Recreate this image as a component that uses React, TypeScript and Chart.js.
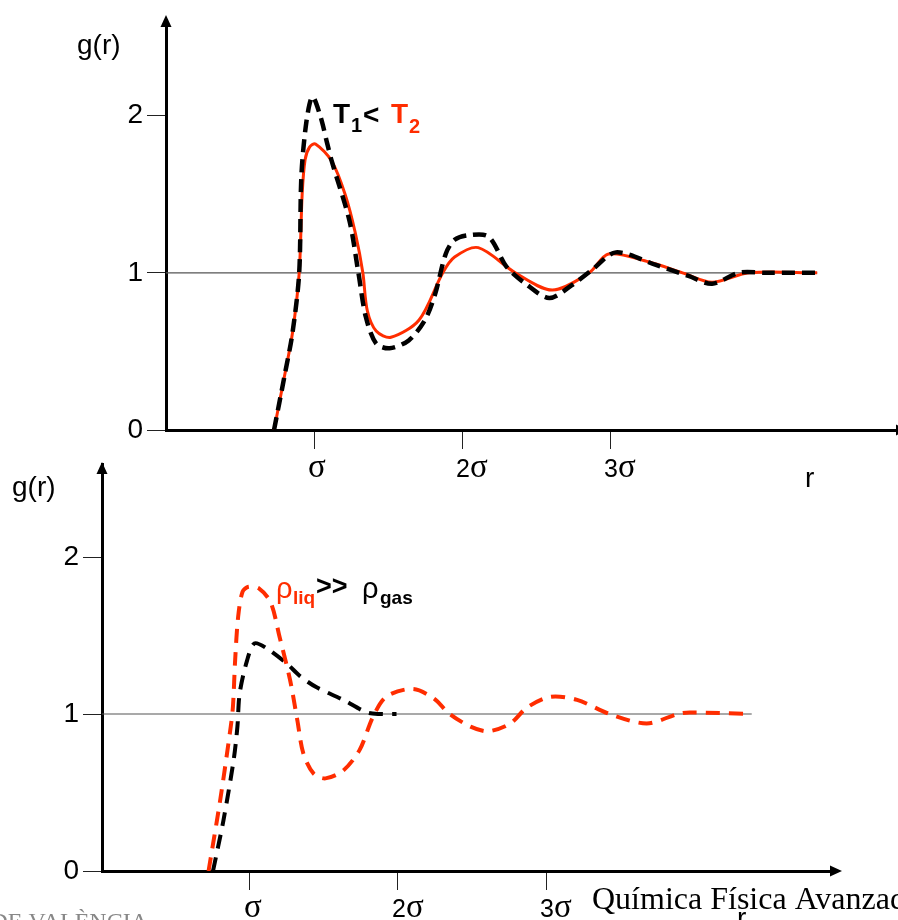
import React, { useEffect, useRef } from "react";
import { Chart, registerables } from "chart.js";

Chart.register(...registerables);

// ---------- Top panel: T1 < T2 ----------
const t2R = [0.73, 0.80, 0.855, 0.90, 0.92, 0.94, 0.97, 1.01, 1.12, 1.21, 1.28, 1.33, 1.36, 1.42, 1.52, 1.71, 1.87, 1.95, 2.11, 2.36, 2.61, 2.86, 2.99, 3.26, 3.49, 3.69, 3.94, 4.40];
const t2G = [0, 0.34, 0.62, 1.0, 1.50, 1.72, 1.80, 1.82, 1.71, 1.50, 1.25, 1.0, 0.76, 0.63, 0.59, 0.70, 1.0, 1.10, 1.16, 1.0, 0.89, 1.0, 1.12, 1.07, 1.0, 0.94, 1.0, 1.0];

const t1R = [0.73, 0.80, 0.855, 0.90, 0.915, 0.95, 0.99, 1.045, 1.09, 1.12, 1.24, 1.30, 1.35, 1.42, 1.51, 1.64, 1.75, 1.82, 1.89, 1.95, 2.05, 2.18, 2.30, 2.43, 2.59, 2.74, 2.88, 3.04, 3.31, 3.53, 3.69, 3.87, 4.05, 4.40];
const t1G = [0, 0.34, 0.62, 1.0, 1.62, 1.97, 2.12, 1.99, 1.82, 1.71, 1.33, 1.0, 0.72, 0.55, 0.52, 0.57, 0.70, 0.87, 1.12, 1.21, 1.24, 1.23, 1.04, 0.93, 0.84, 0.92, 1.02, 1.13, 1.05, 0.98, 0.93, 1.0, 1.0, 1.0];

const refTopR = [0, 4.40];
const refTopG = [1, 1];

// ---------- Bottom panel: rho_liq >> rho_gas ----------
const liqR = [0.72, 0.80, 0.87, 0.885, 0.90, 0.92, 0.95, 0.99, 1.06, 1.14, 1.20, 1.27, 1.32, 1.36, 1.43, 1.51, 1.63, 1.74, 1.83, 1.92, 2.10, 2.24, 2.35, 2.49, 2.61, 2.76, 2.87, 3.03, 3.21, 3.43, 3.68, 3.89, 3.97, 4.39];
const liqG = [0, 0.46, 0.92, 1.05, 1.35, 1.62, 1.78, 1.81, 1.80, 1.71, 1.49, 1.22, 0.96, 0.75, 0.62, 0.59, 0.64, 0.77, 0.98, 1.11, 1.16, 1.10, 1.0, 0.92, 0.89, 0.94, 1.04, 1.11, 1.09, 1.0, 0.94, 1.0, 1.01, 1.0];

const gasR = [0.75, 0.82, 0.89, 0.915, 0.93, 0.98, 1.03, 1.11, 1.25, 1.34, 1.45, 1.63, 1.79, 1.88, 1.99];
const gasG = [0, 0.32, 0.71, 0.92, 1.13, 1.34, 1.45, 1.42, 1.32, 1.24, 1.17, 1.09, 1.01, 1.0, 1.0];

const refBotR = [0, 4.39];
const refBotG = [1, 1];

// ---------- Tick labels ----------
const yTickValues = [0, 1, 2];
const xTickValues = [1, 2, 3];
const xTickPrefixes = ["", "2", "3"];
const sigma = "σ";

const RED = "#ff2d00";
const SANS = "'Liberation Sans', Arial, sans-serif";
const SERIF = "'Liberation Serif', 'Times New Roman', serif";

const toPts = (xs: number[], ys: number[]) => xs.map((x, i) => ({ x, y: ys[i] }));

function txt(ctx: CanvasRenderingContext2D, s: string, x: number, y: number, font: string, color: string, align: CanvasTextAlign = "left") {
  ctx.save();
  ctx.font = font;
  ctx.fillStyle = color;
  ctx.textAlign = align;
  ctx.textBaseline = "alphabetic";
  ctx.fillText(s, x, y);
  ctx.restore();
}

function tri(ctx: CanvasRenderingContext2D, pts: number[][]) {
  ctx.save();
  ctx.fillStyle = "#000";
  ctx.beginPath();
  ctx.moveTo(pts[0][0], pts[0][1]);
  ctx.lineTo(pts[1][0], pts[1][1]);
  ctx.lineTo(pts[2][0], pts[2][1]);
  ctx.closePath();
  ctx.fill();
  ctx.restore();
}

function drawXLabels(chart: any, baseline: number) {
  const ctx = chart.ctx as CanvasRenderingContext2D;
  const xs = chart.scales.x;
  xTickValues.forEach((v, i) => {
    const px = xs.getPixelForValue(v);
    let x = px - 6;
    const pre = xTickPrefixes[i];
    if (pre) {
      ctx.font = `25px ${SANS}`;
      const w = ctx.measureText(pre).width;
      txt(ctx, pre, x, baseline, `25px ${SANS}`, "#000");
      x += w;
    }
    txt(ctx, sigma, x, baseline, `33px ${SERIF}`, "#000");
  });
}

function buildOptions(p: { xMax: number; yMax: number; yWidth: number; xHeight: number; padTop: number; padRight: number }) {
  return {
    responsive: false,
    animation: false,
    devicePixelRatio: 1,
    layout: { padding: { top: p.padTop, right: p.padRight, left: 0, bottom: 0 } },
    plugins: { legend: { display: false }, tooltip: { enabled: false } },
    elements: {
      point: { radius: 0, hoverRadius: 0 },
      line: { tension: 0.3, borderCapStyle: "butt", fill: false },
    },
    scales: {
      x: {
        type: "linear",
        min: 0,
        max: p.xMax,
        afterBuildTicks: (s: any) => {
          s.ticks = xTickValues.map((v) => ({ value: v }));
        },
        afterFit: (s: any) => {
          s.height = p.xHeight;
        },
        ticks: { display: false },
        grid: { drawOnChartArea: false, drawTicks: true, tickLength: 19, color: "#222", tickColor: "#222", lineWidth: 1 },
        border: { display: true, color: "#000", width: 3 },
      },
      y: {
        type: "linear",
        min: 0,
        max: p.yMax,
        afterBuildTicks: (s: any) => {
          s.ticks = yTickValues.map((v) => ({ value: v }));
        },
        afterFit: (s: any) => {
          s.width = p.yWidth;
        },
        ticks: { font: { family: SANS, size: 28 }, color: "#000", padding: 4 },
        grid: { drawOnChartArea: false, drawTicks: true, tickLength: 19, color: "#222", tickColor: "#222", lineWidth: 1 },
        border: { display: true, color: "#000", width: 3 },
      },
    },
  };
}

const topDecor = {
  id: "topDecor",
  afterDraw(chart: any) {
    const ctx = chart.ctx as CanvasRenderingContext2D;
    const ca = chart.chartArea;
    tri(ctx, [[ca.left, 15], [ca.left - 5.5, 27], [ca.left + 5.5, 27]]);
    tri(ctx, [[ca.right + 10, ca.bottom], [ca.right - 2, ca.bottom - 5.5], [ca.right - 2, ca.bottom + 5.5]]);
    drawXLabels(chart, 477);
    txt(ctx, "g(r)", 77, 54, `28px ${SANS}`, "#000");
    txt(ctx, "r", 805, 487, `28px ${SANS}`, "#000");
    txt(ctx, "T", 333, 123, `bold 28px ${SANS}`, "#000");
    txt(ctx, "1", 351, 132, `bold 20px ${SANS}`, "#000");
    txt(ctx, "<", 363, 124, `bold 28px ${SANS}`, "#000");
    txt(ctx, "T", 391, 123, `bold 28px ${SANS}`, RED);
    txt(ctx, "2", 409, 133, `bold 20px ${SANS}`, RED);
  },
};

const botDecor = {
  id: "botDecor",
  afterDraw(chart: any) {
    const ctx = chart.ctx as CanvasRenderingContext2D;
    const ca = chart.chartArea;
    tri(ctx, [[ca.left, 22], [ca.left - 5.5, 34], [ca.left + 5.5, 34]]);
    tri(ctx, [[ca.right + 12, ca.bottom], [ca.right, ca.bottom - 5.5], [ca.right, ca.bottom + 5.5]]);
    drawXLabels(chart, 477);
    txt(ctx, "g(r)", 12, 56, `28px ${SANS}`, "#000");
    txt(ctx, "ρ", 276, 157.5, `29px ${SANS}`, RED);
    txt(ctx, "liq", 293, 164, `bold 19px ${SANS}`, RED);
    txt(ctx, ">>", 316, 155, `bold 27px ${SANS}`, "#000");
    txt(ctx, "ρ", 362, 157.5, `29px ${SANS}`, "#000");
    txt(ctx, "gas", 380, 164, `bold 19px ${SANS}`, "#000");
    txt(ctx, "Química Física Avanzada", 592, 469, `32px ${SERIF}`, "#000");
    txt(ctx, "r", 737, 487, `28px ${SANS}`, "#000");
    txt(ctx, "UNIVERSITAT DE VALÈNCIA", 148, 489, `24px ${SERIF}`, "#888", "right");
  },
};

export default function App() {
  const topRef = useRef<HTMLCanvasElement>(null);
  const botRef = useRef<HTMLCanvasElement>(null);

  useEffect(() => {
    const c1 = new Chart(topRef.current as HTMLCanvasElement, {
      type: "line",
      data: {
        datasets: [
          { data: toPts(t1R, t1G), borderColor: "#000", borderWidth: 4.5, borderDash: [13, 7] },
          { data: toPts(t2R, t2G), borderColor: RED, borderWidth: 3 },
          { data: toPts(refTopR, refTopG), borderColor: "#555", borderWidth: 1.2, tension: 0 },
        ],
      } as any,
      options: buildOptions({ xMax: (898 - 166) / 148, yMax: 410 / 157.5, yWidth: 166, xHeight: 70, padTop: 20, padRight: 0 }) as any,
      plugins: [topDecor],
    });
    const c2 = new Chart(botRef.current as HTMLCanvasElement, {
      type: "line",
      data: {
        datasets: [
          { data: toPts(liqR, liqG), borderColor: RED, borderWidth: 4, borderDash: [14, 9] },
          { data: toPts(gasR, gasG), borderColor: "#000", borderWidth: 4, borderDash: [14, 9] },
          { data: toPts(refBotR, refBotG), borderColor: "#555", borderWidth: 1.2, tension: 0 },
        ],
      } as any,
      options: buildOptions({ xMax: (830 - 102) / 148, yMax: 407 / 157, yWidth: 102, xHeight: 49, padTop: 24, padRight: 68 }) as any,
      plugins: [botDecor],
    });
    return () => {
      c1.destroy();
      c2.destroy();
    };
  }, []);

  return (
    <div style={{ position: "absolute", left: 0, top: 0, width: 898, height: 920, overflow: "hidden", background: "#fff" }}>
      <canvas ref={topRef} width={898} height={500} style={{ position: "absolute", left: 0, top: 0 }} />
      <canvas ref={botRef} width={898} height={480} style={{ position: "absolute", left: 0, top: 440 }} />
    </div>
  );
}
